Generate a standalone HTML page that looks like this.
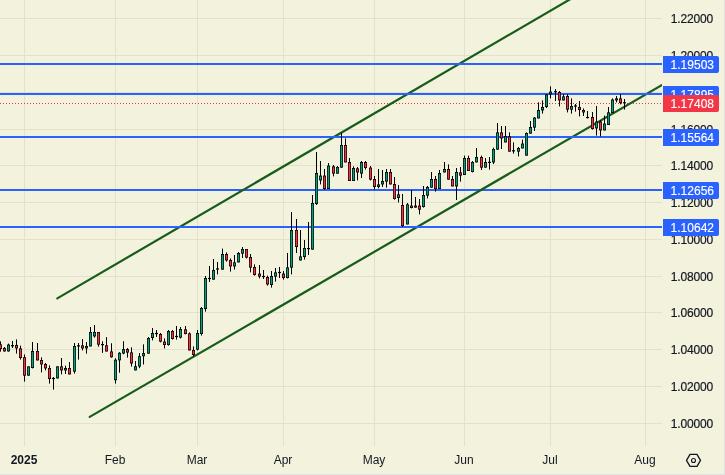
<!DOCTYPE html>
<html><head><meta charset="utf-8"><style>
html,body{margin:0;padding:0;}
.pl,.ml,.bx{will-change:transform;-webkit-font-smoothing:antialiased;}
body{width:725px;height:475px;overflow:hidden;background:#f3f2dd;position:relative;font-family:"Liberation Sans",sans-serif;color:#131722;}
svg{position:absolute;left:0;top:0;}
.pl{position:absolute;left:662px;width:51px;text-align:right;font-size:12px;line-height:14px;height:14px;letter-spacing:-0.15px;-webkit-text-stroke:0.2px #131722;}
.bx{position:absolute;left:663px;width:56px;height:17px;line-height:19px;color:#fff;font-size:12px;text-align:right;box-sizing:border-box;padding-right:5px;border-radius:0 2px 2px 0;letter-spacing:0px;-webkit-text-stroke:0.15px #fff;overflow:hidden;}
.ml{position:absolute;top:453px;width:60px;text-align:center;font-size:12px;line-height:14px;}
.ml.b{font-weight:bold;}
.edge-r{position:absolute;left:724px;top:0;width:1px;height:475px;background:#e1e1e1;}
.edge-b{position:absolute;left:0;top:474px;width:725px;height:1px;background:#e1e1e1;}
</style></head><body>
<svg width="725" height="475" viewBox="0 0 725 475">
<rect x="24" y="0" width="1" height="446" fill="#e3e1cb"/>
<rect x="115" y="0" width="1" height="446" fill="#e3e1cb"/>
<rect x="197" y="0" width="1" height="446" fill="#e3e1cb"/>
<rect x="283" y="0" width="1" height="446" fill="#e3e1cb"/>
<rect x="374" y="0" width="1" height="446" fill="#e3e1cb"/>
<rect x="464" y="0" width="1" height="446" fill="#e3e1cb"/>
<rect x="550" y="0" width="1" height="446" fill="#e3e1cb"/>
<rect x="645" y="0" width="1" height="446" fill="#e3e1cb"/>
<rect x="0" y="18" width="662" height="1" fill="#e3e1cb"/>
<rect x="0" y="55" width="662" height="1" fill="#e3e1cb"/>
<rect x="0" y="92" width="662" height="1" fill="#e3e1cb"/>
<rect x="0" y="129" width="662" height="1" fill="#e3e1cb"/>
<rect x="0" y="165" width="662" height="1" fill="#e3e1cb"/>
<rect x="0" y="202" width="662" height="1" fill="#e3e1cb"/>
<rect x="0" y="239" width="662" height="1" fill="#e3e1cb"/>
<rect x="0" y="276" width="662" height="1" fill="#e3e1cb"/>
<rect x="0" y="312" width="662" height="1" fill="#e3e1cb"/>
<rect x="0" y="349" width="662" height="1" fill="#e3e1cb"/>
<rect x="0" y="386" width="662" height="1" fill="#e3e1cb"/>
<rect x="0" y="423" width="662" height="1" fill="#e3e1cb"/>
<clipPath id="cl"><rect x="0" y="0" width="662" height="446"/></clipPath>
<line x1="0" y1="103.5" x2="662" y2="103.5" stroke="#f23645" stroke-width="1" stroke-dasharray="1 2" shape-rendering="crispEdges"/>
<rect x="0" y="189" width="662" height="2" fill="#2962ff"/>
<g clip-path="url(#cl)"><line x1="57.3" y1="298.34" x2="580" y2="-6.50" stroke="#185c1c" stroke-width="2.2" stroke-linecap="round"/>
<line x1="89.7" y1="416.90" x2="680" y2="74.53" stroke="#185c1c" stroke-width="2.2" stroke-linecap="round"/></g>
<rect x="0" y="63" width="662" height="2" fill="#2962ff"/>
<rect x="0" y="93" width="662" height="2" fill="#2962ff"/>
<rect x="0" y="136" width="662" height="2" fill="#2962ff"/>
<rect x="0" y="226" width="662" height="2" fill="#2962ff"/>
<g clip-path="url(#cl)"><rect x="0.00" y="341.40" width="1" height="10.20" fill="#000"/><rect x="-1.00" y="344.40" width="3" height="4.60" fill="#000"/><rect x="-0.30" y="345.20" width="1.6" height="3.00" fill="#f23645"/><rect x="4.00" y="347.00" width="1" height="4.60" fill="#000"/><rect x="3.00" y="348.00" width="3" height="3.40" fill="#000"/><rect x="3.70" y="348.80" width="1.6" height="1.80" fill="#f23645"/><rect x="8.00" y="343.60" width="1" height="8.00" fill="#000"/><rect x="7.00" y="344.60" width="3" height="6.80" fill="#000"/><rect x="7.70" y="345.40" width="1.6" height="5.20" fill="#0a9b81"/><rect x="12.00" y="341.00" width="1" height="7.00" fill="#000"/><rect x="11.00" y="345.10" width="3" height="1.2" fill="#000"/><rect x="16.00" y="339.40" width="1" height="14.20" fill="#000"/><rect x="15.00" y="345.00" width="3" height="3.40" fill="#000"/><rect x="15.70" y="345.80" width="1.6" height="1.80" fill="#f23645"/><rect x="20.00" y="345.60" width="1" height="14.00" fill="#000"/><rect x="19.00" y="348.40" width="3" height="9.60" fill="#000"/><rect x="19.70" y="349.20" width="1.6" height="8.00" fill="#f23645"/><rect x="24.00" y="354.40" width="1" height="27.20" fill="#000"/><rect x="23.00" y="357.20" width="3" height="18.40" fill="#000"/><rect x="23.70" y="358.00" width="1.6" height="16.80" fill="#f23645"/><rect x="28.00" y="366.40" width="1" height="9.20" fill="#000"/><rect x="27.00" y="366.40" width="3" height="9.20" fill="#000"/><rect x="27.70" y="367.20" width="1.6" height="7.60" fill="#0a9b81"/><rect x="32.00" y="342.00" width="1" height="26.40" fill="#000"/><rect x="31.00" y="351.00" width="3" height="17.00" fill="#000"/><rect x="31.70" y="351.80" width="1.6" height="15.40" fill="#0a9b81"/><rect x="37.00" y="343.00" width="1" height="17.40" fill="#000"/><rect x="36.00" y="351.00" width="3" height="9.40" fill="#000"/><rect x="36.70" y="351.80" width="1.6" height="7.80" fill="#f23645"/><rect x="41.00" y="357.40" width="1" height="15.00" fill="#000"/><rect x="40.00" y="360.00" width="3" height="4.40" fill="#000"/><rect x="40.70" y="360.80" width="1.6" height="2.80" fill="#f23645"/><rect x="45.00" y="363.00" width="1" height="7.40" fill="#000"/><rect x="44.00" y="364.00" width="3" height="4.40" fill="#000"/><rect x="44.70" y="364.80" width="1.6" height="2.80" fill="#f23645"/><rect x="49.00" y="365.40" width="1" height="18.20" fill="#000"/><rect x="48.00" y="368.00" width="3" height="11.00" fill="#000"/><rect x="48.70" y="368.80" width="1.6" height="9.40" fill="#f23645"/><rect x="53.00" y="377.00" width="1" height="12.60" fill="#000"/><rect x="52.00" y="377.90" width="3" height="1.2" fill="#000"/><rect x="57.00" y="366.40" width="1" height="12.00" fill="#000"/><rect x="56.00" y="366.40" width="3" height="12.00" fill="#000"/><rect x="56.70" y="367.20" width="1.6" height="10.40" fill="#0a9b81"/><rect x="61.00" y="358.00" width="1" height="16.40" fill="#000"/><rect x="60.00" y="366.40" width="3" height="4.00" fill="#000"/><rect x="60.70" y="367.20" width="1.6" height="2.40" fill="#f23645"/><rect x="65.00" y="365.60" width="1" height="8.40" fill="#000"/><rect x="64.00" y="368.00" width="3" height="2.40" fill="#000"/><rect x="64.70" y="368.80" width="1.6" height="0.80" fill="#0a9b81"/><rect x="69.00" y="362.00" width="1" height="12.40" fill="#000"/><rect x="68.00" y="368.00" width="3" height="6.40" fill="#000"/><rect x="68.70" y="368.80" width="1.6" height="4.80" fill="#f23645"/><rect x="74.00" y="343.00" width="1" height="30.60" fill="#000"/><rect x="73.00" y="346.00" width="3" height="25.60" fill="#000"/><rect x="73.70" y="346.80" width="1.6" height="24.00" fill="#0a9b81"/><rect x="78.00" y="343.00" width="1" height="16.60" fill="#000"/><rect x="77.00" y="345.30" width="3" height="1.2" fill="#000"/><rect x="82.00" y="339.00" width="1" height="11.40" fill="#000"/><rect x="81.00" y="345.40" width="3" height="3.00" fill="#000"/><rect x="81.70" y="346.20" width="1.6" height="1.40" fill="#f23645"/><rect x="86.00" y="342.00" width="1" height="11.60" fill="#000"/><rect x="85.00" y="346.00" width="3" height="2.40" fill="#000"/><rect x="85.70" y="346.80" width="1.6" height="0.80" fill="#0a9b81"/><rect x="90.00" y="327.00" width="1" height="19.40" fill="#000"/><rect x="89.00" y="332.00" width="3" height="14.40" fill="#000"/><rect x="89.70" y="332.80" width="1.6" height="12.80" fill="#0a9b81"/><rect x="94.00" y="325.00" width="1" height="12.60" fill="#000"/><rect x="93.00" y="332.00" width="3" height="4.40" fill="#000"/><rect x="93.70" y="332.80" width="1.6" height="2.80" fill="#0a9b81"/><rect x="98.00" y="332.04" width="1" height="14.64" fill="#000"/><rect x="97.00" y="332.04" width="3" height="12.59" fill="#000"/><rect x="97.70" y="332.84" width="1.6" height="10.99" fill="#f23645"/><rect x="102.00" y="341.20" width="1" height="11.63" fill="#000"/><rect x="101.00" y="344.02" width="3" height="1.2" fill="#000"/><rect x="106.00" y="337.10" width="1" height="14.36" fill="#000"/><rect x="105.00" y="345.31" width="3" height="6.16" fill="#000"/><rect x="105.70" y="346.11" width="1.6" height="4.56" fill="#f23645"/><rect x="111.00" y="343.26" width="1" height="14.36" fill="#000"/><rect x="110.00" y="351.46" width="3" height="5.75" fill="#000"/><rect x="110.70" y="352.26" width="1.6" height="4.15" fill="#f23645"/><rect x="115.00" y="358.30" width="1" height="25.31" fill="#000"/><rect x="114.00" y="359.67" width="3" height="20.52" fill="#000"/><rect x="114.70" y="360.47" width="1.6" height="18.92" fill="#0a9b81"/><rect x="119.00" y="352.15" width="1" height="20.52" fill="#000"/><rect x="118.00" y="352.83" width="3" height="7.52" fill="#000"/><rect x="118.70" y="353.63" width="1.6" height="5.92" fill="#0a9b81"/><rect x="123.00" y="341.20" width="1" height="13.00" fill="#000"/><rect x="122.00" y="349.14" width="3" height="4.38" fill="#000"/><rect x="122.70" y="349.94" width="1.6" height="2.78" fill="#0a9b81"/><rect x="127.00" y="348.04" width="1" height="9.58" fill="#000"/><rect x="126.00" y="349.14" width="3" height="3.42" fill="#000"/><rect x="126.70" y="349.94" width="1.6" height="1.82" fill="#f23645"/><rect x="131.00" y="347.36" width="1" height="19.15" fill="#000"/><rect x="130.00" y="352.42" width="3" height="11.08" fill="#000"/><rect x="130.70" y="353.22" width="1.6" height="9.48" fill="#f23645"/><rect x="135.00" y="361.04" width="1" height="9.30" fill="#000"/><rect x="134.00" y="366.24" width="3" height="4.10" fill="#000"/><rect x="134.70" y="367.04" width="1.6" height="2.50" fill="#0a9b81"/><rect x="139.00" y="353.11" width="1" height="15.05" fill="#000"/><rect x="138.00" y="356.25" width="3" height="10.26" fill="#000"/><rect x="138.70" y="357.05" width="1.6" height="8.66" fill="#0a9b81"/><rect x="143.00" y="344.35" width="1" height="20.11" fill="#000"/><rect x="142.00" y="353.11" width="3" height="3.15" fill="#000"/><rect x="142.70" y="353.91" width="1.6" height="1.55" fill="#0a9b81"/><rect x="148.00" y="337.00" width="1" height="16.60" fill="#000"/><rect x="147.00" y="338.00" width="3" height="15.60" fill="#000"/><rect x="147.70" y="338.80" width="1.6" height="14.00" fill="#0a9b81"/><rect x="152.00" y="328.00" width="1" height="12.40" fill="#000"/><rect x="151.00" y="333.00" width="3" height="5.00" fill="#000"/><rect x="151.70" y="333.80" width="1.6" height="3.40" fill="#0a9b81"/><rect x="156.00" y="330.00" width="1" height="7.00" fill="#000"/><rect x="155.00" y="332.90" width="3" height="1.2" fill="#000"/><rect x="160.00" y="333.00" width="1" height="9.40" fill="#000"/><rect x="159.00" y="334.00" width="3" height="7.60" fill="#000"/><rect x="159.70" y="334.80" width="1.6" height="6.00" fill="#f23645"/><rect x="164.00" y="338.40" width="1" height="10.00" fill="#000"/><rect x="163.00" y="341.60" width="3" height="3.40" fill="#000"/><rect x="163.70" y="342.40" width="1.6" height="1.80" fill="#f23645"/><rect x="168.00" y="330.00" width="1" height="15.60" fill="#000"/><rect x="167.00" y="331.00" width="3" height="14.00" fill="#000"/><rect x="167.70" y="331.80" width="1.6" height="12.40" fill="#0a9b81"/><rect x="172.00" y="330.00" width="1" height="9.60" fill="#000"/><rect x="171.00" y="331.00" width="3" height="8.00" fill="#000"/><rect x="171.70" y="331.80" width="1.6" height="6.40" fill="#f23645"/><rect x="176.00" y="326.00" width="1" height="13.60" fill="#000"/><rect x="175.00" y="335.90" width="3" height="1.2" fill="#000"/><rect x="180.00" y="327.00" width="1" height="11.40" fill="#000"/><rect x="179.00" y="329.00" width="3" height="8.60" fill="#000"/><rect x="179.70" y="329.80" width="1.6" height="7.00" fill="#0a9b81"/><rect x="185.00" y="326.00" width="1" height="8.40" fill="#000"/><rect x="184.00" y="329.40" width="3" height="4.60" fill="#000"/><rect x="184.70" y="330.20" width="1.6" height="3.00" fill="#f23645"/><rect x="189.00" y="332.40" width="1" height="18.00" fill="#000"/><rect x="188.00" y="333.40" width="3" height="17.00" fill="#000"/><rect x="188.70" y="334.20" width="1.6" height="15.40" fill="#f23645"/><rect x="193.00" y="346.40" width="1" height="10.00" fill="#000"/><rect x="192.00" y="350.00" width="3" height="5.00" fill="#000"/><rect x="192.70" y="350.80" width="1.6" height="3.40" fill="#f23645"/><rect x="197.00" y="330.00" width="1" height="20.40" fill="#000"/><rect x="196.00" y="333.00" width="3" height="16.60" fill="#000"/><rect x="196.70" y="333.80" width="1.6" height="15.00" fill="#0a9b81"/><rect x="201.00" y="307.00" width="1" height="28.60" fill="#000"/><rect x="200.00" y="308.00" width="3" height="26.00" fill="#000"/><rect x="200.70" y="308.80" width="1.6" height="24.40" fill="#0a9b81"/><rect x="209.00" y="266.00" width="1" height="16.00" fill="#000"/><rect x="208.00" y="277.90" width="3" height="1.2" fill="#000"/><rect x="213.00" y="259.00" width="1" height="20.60" fill="#000"/><rect x="212.00" y="270.00" width="3" height="9.60" fill="#000"/><rect x="212.70" y="270.80" width="1.6" height="8.00" fill="#0a9b81"/><rect x="217.00" y="262.00" width="1" height="12.40" fill="#000"/><rect x="216.00" y="268.40" width="3" height="1.2" fill="#000"/><rect x="222.00" y="248.60" width="1" height="21.00" fill="#000"/><rect x="221.00" y="254.00" width="3" height="15.60" fill="#000"/><rect x="221.70" y="254.80" width="1.6" height="14.00" fill="#0a9b81"/><rect x="226.00" y="252.40" width="1" height="9.20" fill="#000"/><rect x="225.00" y="254.00" width="3" height="6.40" fill="#000"/><rect x="225.70" y="254.80" width="1.6" height="4.80" fill="#f23645"/><rect x="230.00" y="258.40" width="1" height="13.20" fill="#000"/><rect x="229.00" y="260.00" width="3" height="6.40" fill="#000"/><rect x="229.70" y="260.80" width="1.6" height="4.80" fill="#f23645"/><rect x="234.00" y="255.00" width="1" height="14.60" fill="#000"/><rect x="233.00" y="262.40" width="3" height="4.00" fill="#000"/><rect x="233.70" y="263.20" width="1.6" height="2.40" fill="#0a9b81"/><rect x="238.00" y="252.00" width="1" height="10.40" fill="#000"/><rect x="237.00" y="253.00" width="3" height="9.40" fill="#000"/><rect x="237.70" y="253.80" width="1.6" height="7.80" fill="#0a9b81"/><rect x="242.00" y="247.00" width="1" height="11.00" fill="#000"/><rect x="241.00" y="249.00" width="3" height="4.60" fill="#000"/><rect x="241.70" y="249.80" width="1.6" height="3.00" fill="#0a9b81"/><rect x="246.00" y="249.00" width="1" height="9.40" fill="#000"/><rect x="245.00" y="249.00" width="3" height="8.60" fill="#000"/><rect x="245.70" y="249.80" width="1.6" height="7.00" fill="#f23645"/><rect x="250.00" y="254.00" width="1" height="18.40" fill="#000"/><rect x="249.00" y="257.00" width="3" height="10.60" fill="#000"/><rect x="249.70" y="257.80" width="1.6" height="9.00" fill="#f23645"/><rect x="254.00" y="264.40" width="1" height="11.20" fill="#000"/><rect x="253.00" y="267.00" width="3" height="8.00" fill="#000"/><rect x="253.70" y="267.80" width="1.6" height="6.40" fill="#f23645"/><rect x="259.00" y="265.00" width="1" height="13.40" fill="#000"/><rect x="258.00" y="273.60" width="3" height="3.00" fill="#000"/><rect x="258.70" y="274.40" width="1.6" height="1.40" fill="#f23645"/><rect x="263.00" y="270.00" width="1" height="9.00" fill="#000"/><rect x="262.00" y="275.90" width="3" height="1.2" fill="#000"/><rect x="267.00" y="275.60" width="1" height="10.00" fill="#000"/><rect x="266.00" y="277.00" width="3" height="7.40" fill="#000"/><rect x="266.70" y="277.80" width="1.6" height="5.80" fill="#f23645"/><rect x="271.00" y="271.00" width="1" height="16.60" fill="#000"/><rect x="270.00" y="276.00" width="3" height="9.00" fill="#000"/><rect x="270.70" y="276.80" width="1.6" height="7.40" fill="#0a9b81"/><rect x="275.00" y="268.00" width="1" height="13.60" fill="#000"/><rect x="274.00" y="272.40" width="3" height="4.20" fill="#000"/><rect x="274.70" y="273.20" width="1.6" height="2.60" fill="#0a9b81"/><rect x="279.00" y="267.00" width="1" height="11.00" fill="#000"/><rect x="278.00" y="271.90" width="3" height="1.2" fill="#000"/><rect x="283.00" y="271.00" width="1" height="8.60" fill="#000"/><rect x="282.00" y="273.60" width="3" height="4.40" fill="#000"/><rect x="282.70" y="274.40" width="1.6" height="2.80" fill="#f23645"/><rect x="287.00" y="253.00" width="1" height="25.40" fill="#000"/><rect x="286.00" y="267.40" width="3" height="10.60" fill="#000"/><rect x="286.70" y="268.20" width="1.6" height="9.00" fill="#0a9b81"/><rect x="291.00" y="212.00" width="1" height="62.40" fill="#000"/><rect x="290.00" y="230.00" width="3" height="37.60" fill="#000"/><rect x="290.70" y="230.80" width="1.6" height="36.00" fill="#0a9b81"/><rect x="296.00" y="219.00" width="1" height="34.00" fill="#000"/><rect x="295.00" y="230.00" width="3" height="17.00" fill="#000"/><rect x="295.70" y="230.80" width="1.6" height="15.40" fill="#f23645"/><rect x="300.00" y="230.00" width="1" height="30.40" fill="#000"/><rect x="299.00" y="256.40" width="3" height="4.00" fill="#000"/><rect x="299.70" y="257.20" width="1.6" height="2.40" fill="#0a9b81"/><rect x="304.00" y="240.00" width="1" height="19.60" fill="#000"/><rect x="303.00" y="248.00" width="3" height="9.00" fill="#000"/><rect x="303.70" y="248.80" width="1.6" height="7.40" fill="#0a9b81"/><rect x="308.00" y="222.00" width="1" height="33.00" fill="#000"/><rect x="307.00" y="248.00" width="3" height="1.2" fill="#000"/><rect x="316.00" y="152.00" width="1" height="53.00" fill="#000"/><rect x="315.00" y="173.00" width="3" height="31.00" fill="#000"/><rect x="315.70" y="173.80" width="1.6" height="29.40" fill="#0a9b81"/><rect x="320.00" y="161.00" width="1" height="23.40" fill="#000"/><rect x="319.00" y="175.60" width="3" height="4.80" fill="#000"/><rect x="319.70" y="176.40" width="1.6" height="3.20" fill="#0a9b81"/><rect x="324.00" y="169.00" width="1" height="20.60" fill="#000"/><rect x="323.00" y="175.60" width="3" height="13.40" fill="#000"/><rect x="323.70" y="176.40" width="1.6" height="11.80" fill="#f23645"/><rect x="328.00" y="163.00" width="1" height="26.00" fill="#000"/><rect x="327.00" y="165.60" width="3" height="23.40" fill="#000"/><rect x="327.70" y="166.40" width="1.6" height="21.80" fill="#0a9b81"/><rect x="333.00" y="165.00" width="1" height="11.40" fill="#000"/><rect x="332.00" y="166.40" width="3" height="7.20" fill="#000"/><rect x="332.70" y="167.20" width="1.6" height="5.60" fill="#f23645"/><rect x="337.00" y="166.00" width="1" height="7.60" fill="#000"/><rect x="336.00" y="167.00" width="3" height="6.60" fill="#000"/><rect x="336.70" y="167.80" width="1.6" height="5.00" fill="#0a9b81"/><rect x="341.00" y="133.00" width="1" height="34.60" fill="#000"/><rect x="340.00" y="145.00" width="3" height="22.60" fill="#000"/><rect x="340.70" y="145.80" width="1.6" height="21.00" fill="#0a9b81"/><rect x="345.00" y="138.40" width="1" height="24.00" fill="#000"/><rect x="344.00" y="145.00" width="3" height="17.40" fill="#000"/><rect x="344.70" y="145.80" width="1.6" height="15.80" fill="#f23645"/><rect x="349.00" y="158.00" width="1" height="23.00" fill="#000"/><rect x="348.00" y="162.00" width="3" height="19.00" fill="#000"/><rect x="348.70" y="162.80" width="1.6" height="17.40" fill="#f23645"/><rect x="353.00" y="166.40" width="1" height="14.60" fill="#000"/><rect x="352.00" y="168.00" width="3" height="13.00" fill="#000"/><rect x="352.70" y="168.80" width="1.6" height="11.40" fill="#0a9b81"/><rect x="357.00" y="167.00" width="1" height="13.40" fill="#000"/><rect x="356.00" y="168.40" width="3" height="4.00" fill="#000"/><rect x="356.70" y="169.20" width="1.6" height="2.40" fill="#f23645"/><rect x="361.00" y="161.00" width="1" height="17.00" fill="#000"/><rect x="360.00" y="162.00" width="3" height="11.60" fill="#000"/><rect x="360.70" y="162.80" width="1.6" height="10.00" fill="#0a9b81"/><rect x="365.00" y="161.00" width="1" height="8.60" fill="#000"/><rect x="364.00" y="162.00" width="3" height="6.00" fill="#000"/><rect x="364.70" y="162.80" width="1.6" height="4.40" fill="#f23645"/><rect x="370.00" y="166.00" width="1" height="14.40" fill="#000"/><rect x="369.00" y="167.60" width="3" height="12.00" fill="#000"/><rect x="369.70" y="168.40" width="1.6" height="10.40" fill="#f23645"/><rect x="374.00" y="176.00" width="1" height="13.60" fill="#000"/><rect x="373.00" y="179.00" width="3" height="8.00" fill="#000"/><rect x="373.70" y="179.80" width="1.6" height="6.40" fill="#f23645"/><rect x="378.00" y="169.00" width="1" height="19.40" fill="#000"/><rect x="377.00" y="184.40" width="3" height="2.60" fill="#000"/><rect x="377.70" y="185.20" width="1.6" height="1.00" fill="#0a9b81"/><rect x="382.00" y="170.00" width="1" height="17.00" fill="#000"/><rect x="381.00" y="181.00" width="3" height="3.40" fill="#000"/><rect x="381.70" y="181.80" width="1.6" height="1.80" fill="#0a9b81"/><rect x="386.00" y="169.00" width="1" height="18.60" fill="#000"/><rect x="385.00" y="172.00" width="3" height="9.60" fill="#000"/><rect x="385.70" y="172.80" width="1.6" height="8.00" fill="#0a9b81"/><rect x="390.00" y="169.00" width="1" height="15.40" fill="#000"/><rect x="389.00" y="172.00" width="3" height="12.40" fill="#000"/><rect x="389.70" y="172.80" width="1.6" height="10.80" fill="#f23645"/><rect x="394.00" y="177.00" width="1" height="22.60" fill="#000"/><rect x="393.00" y="184.00" width="3" height="15.00" fill="#000"/><rect x="393.70" y="184.80" width="1.6" height="13.40" fill="#f23645"/><rect x="398.00" y="185.00" width="1" height="17.40" fill="#000"/><rect x="397.00" y="194.40" width="3" height="3.60" fill="#000"/><rect x="397.70" y="195.20" width="1.6" height="2.00" fill="#0a9b81"/><rect x="402.00" y="194.00" width="1" height="33.00" fill="#000"/><rect x="401.00" y="205.00" width="3" height="21.00" fill="#000"/><rect x="401.70" y="205.80" width="1.6" height="19.40" fill="#f23645"/><rect x="407.00" y="203.00" width="1" height="21.40" fill="#000"/><rect x="406.00" y="204.40" width="3" height="20.00" fill="#000"/><rect x="406.70" y="205.20" width="1.6" height="18.40" fill="#0a9b81"/><rect x="411.00" y="190.00" width="1" height="18.40" fill="#000"/><rect x="410.00" y="205.60" width="3" height="2.40" fill="#000"/><rect x="410.70" y="206.40" width="1.6" height="0.80" fill="#f23645"/><rect x="415.00" y="197.00" width="1" height="10.60" fill="#000"/><rect x="414.00" y="205.60" width="3" height="2.00" fill="#000"/><rect x="414.70" y="206.40" width="1.6" height="0.40" fill="#f23645"/><rect x="419.00" y="199.00" width="1" height="15.40" fill="#000"/><rect x="418.00" y="205.60" width="3" height="4.00" fill="#000"/><rect x="418.70" y="206.40" width="1.6" height="2.40" fill="#f23645"/><rect x="423.00" y="186.00" width="1" height="21.60" fill="#000"/><rect x="422.00" y="195.00" width="3" height="12.00" fill="#000"/><rect x="422.70" y="195.80" width="1.6" height="10.40" fill="#0a9b81"/><rect x="427.00" y="186.00" width="1" height="12.40" fill="#000"/><rect x="426.00" y="187.00" width="3" height="8.60" fill="#000"/><rect x="426.70" y="187.80" width="1.6" height="7.00" fill="#0a9b81"/><rect x="431.00" y="172.00" width="1" height="15.60" fill="#000"/><rect x="430.00" y="179.00" width="3" height="8.60" fill="#000"/><rect x="430.70" y="179.80" width="1.6" height="7.00" fill="#0a9b81"/><rect x="435.00" y="176.00" width="1" height="15.60" fill="#000"/><rect x="434.00" y="179.00" width="3" height="10.00" fill="#000"/><rect x="434.70" y="179.80" width="1.6" height="8.40" fill="#f23645"/><rect x="439.00" y="170.00" width="1" height="19.00" fill="#000"/><rect x="438.00" y="173.00" width="3" height="16.00" fill="#000"/><rect x="438.70" y="173.80" width="1.6" height="14.40" fill="#0a9b81"/><rect x="444.00" y="162.00" width="1" height="10.40" fill="#000"/><rect x="443.00" y="169.00" width="3" height="3.40" fill="#000"/><rect x="443.70" y="169.80" width="1.6" height="1.80" fill="#0a9b81"/><rect x="448.00" y="164.40" width="1" height="15.20" fill="#000"/><rect x="447.00" y="169.00" width="3" height="10.60" fill="#000"/><rect x="447.70" y="169.80" width="1.6" height="9.00" fill="#f23645"/><rect x="452.00" y="176.00" width="1" height="10.40" fill="#000"/><rect x="451.00" y="179.00" width="3" height="7.40" fill="#000"/><rect x="451.70" y="179.80" width="1.6" height="5.80" fill="#f23645"/><rect x="456.00" y="168.00" width="1" height="32.00" fill="#000"/><rect x="455.00" y="172.00" width="3" height="14.40" fill="#000"/><rect x="455.70" y="172.80" width="1.6" height="12.80" fill="#0a9b81"/><rect x="460.00" y="167.00" width="1" height="14.60" fill="#000"/><rect x="459.00" y="172.40" width="3" height="3.20" fill="#000"/><rect x="459.70" y="173.20" width="1.6" height="1.60" fill="#f23645"/><rect x="468.00" y="155.60" width="1" height="15.40" fill="#000"/><rect x="467.00" y="158.00" width="3" height="13.00" fill="#000"/><rect x="467.70" y="158.80" width="1.6" height="11.40" fill="#f23645"/><rect x="472.00" y="161.00" width="1" height="11.40" fill="#000"/><rect x="471.00" y="162.00" width="3" height="10.00" fill="#000"/><rect x="471.70" y="162.80" width="1.6" height="8.40" fill="#0a9b81"/><rect x="476.00" y="148.00" width="1" height="14.40" fill="#000"/><rect x="475.00" y="157.00" width="3" height="5.40" fill="#000"/><rect x="475.70" y="157.80" width="1.6" height="3.80" fill="#0a9b81"/><rect x="481.00" y="155.60" width="1" height="14.40" fill="#000"/><rect x="480.00" y="157.00" width="3" height="10.60" fill="#000"/><rect x="480.70" y="157.80" width="1.6" height="9.00" fill="#f23645"/><rect x="485.00" y="158.00" width="1" height="9.60" fill="#000"/><rect x="484.00" y="162.00" width="3" height="5.60" fill="#000"/><rect x="484.70" y="162.80" width="1.6" height="4.00" fill="#0a9b81"/><rect x="489.00" y="157.00" width="1" height="12.60" fill="#000"/><rect x="488.00" y="161.80" width="3" height="1.2" fill="#000"/><rect x="493.00" y="147.60" width="1" height="16.40" fill="#000"/><rect x="492.00" y="149.00" width="3" height="13.40" fill="#000"/><rect x="492.70" y="149.80" width="1.6" height="11.80" fill="#0a9b81"/><rect x="497.00" y="123.00" width="1" height="26.60" fill="#000"/><rect x="496.00" y="132.40" width="3" height="17.20" fill="#000"/><rect x="496.70" y="133.20" width="1.6" height="15.60" fill="#0a9b81"/><rect x="501.00" y="126.00" width="1" height="23.00" fill="#000"/><rect x="500.00" y="132.40" width="3" height="6.00" fill="#000"/><rect x="500.70" y="133.20" width="1.6" height="4.40" fill="#f23645"/><rect x="505.00" y="126.00" width="1" height="16.40" fill="#000"/><rect x="504.00" y="136.00" width="3" height="6.40" fill="#000"/><rect x="504.70" y="136.80" width="1.6" height="4.80" fill="#0a9b81"/><rect x="509.00" y="132.40" width="1" height="19.20" fill="#000"/><rect x="508.00" y="136.40" width="3" height="15.20" fill="#000"/><rect x="508.70" y="137.20" width="1.6" height="13.60" fill="#f23645"/><rect x="513.00" y="142.40" width="1" height="11.20" fill="#000"/><rect x="512.00" y="150.20" width="3" height="1.2" fill="#000"/><rect x="518.00" y="147.00" width="1" height="9.40" fill="#000"/><rect x="517.00" y="148.00" width="3" height="3.60" fill="#000"/><rect x="517.70" y="148.80" width="1.6" height="2.00" fill="#0a9b81"/><rect x="522.00" y="139.60" width="1" height="8.80" fill="#000"/><rect x="521.00" y="143.60" width="3" height="4.80" fill="#000"/><rect x="521.70" y="144.40" width="1.6" height="3.20" fill="#0a9b81"/><rect x="526.00" y="132.40" width="1" height="23.20" fill="#000"/><rect x="525.00" y="133.00" width="3" height="22.60" fill="#000"/><rect x="525.70" y="133.80" width="1.6" height="21.00" fill="#0a9b81"/><rect x="530.00" y="121.00" width="1" height="12.60" fill="#000"/><rect x="529.00" y="127.00" width="3" height="6.60" fill="#000"/><rect x="529.70" y="127.80" width="1.6" height="5.00" fill="#0a9b81"/><rect x="534.00" y="117.00" width="1" height="14.00" fill="#000"/><rect x="533.00" y="117.60" width="3" height="10.00" fill="#000"/><rect x="533.70" y="118.40" width="1.6" height="8.40" fill="#0a9b81"/><rect x="538.00" y="102.40" width="1" height="16.00" fill="#000"/><rect x="537.00" y="110.00" width="3" height="8.40" fill="#000"/><rect x="537.70" y="110.80" width="1.6" height="6.80" fill="#0a9b81"/><rect x="542.00" y="100.40" width="1" height="13.20" fill="#000"/><rect x="541.00" y="107.00" width="3" height="3.40" fill="#000"/><rect x="541.70" y="107.80" width="1.6" height="1.80" fill="#0a9b81"/><rect x="546.00" y="94.40" width="1" height="13.60" fill="#000"/><rect x="545.00" y="94.40" width="3" height="12.60" fill="#000"/><rect x="545.70" y="95.20" width="1.6" height="11.00" fill="#0a9b81"/><rect x="550.00" y="86.40" width="1" height="12.00" fill="#000"/><rect x="549.00" y="91.60" width="3" height="2.80" fill="#000"/><rect x="549.70" y="92.40" width="1.6" height="1.20" fill="#0a9b81"/><rect x="555.00" y="89.00" width="1" height="12.00" fill="#000"/><rect x="554.00" y="91.10" width="3" height="1.2" fill="#000"/><rect x="559.00" y="91.00" width="1" height="15.40" fill="#000"/><rect x="558.00" y="92.00" width="3" height="8.40" fill="#000"/><rect x="558.70" y="92.80" width="1.6" height="6.80" fill="#f23645"/><rect x="563.00" y="94.00" width="1" height="6.40" fill="#000"/><rect x="562.00" y="96.40" width="3" height="4.00" fill="#000"/><rect x="562.70" y="97.20" width="1.6" height="2.40" fill="#0a9b81"/><rect x="567.00" y="94.00" width="1" height="18.40" fill="#000"/><rect x="566.00" y="96.00" width="3" height="13.60" fill="#000"/><rect x="566.70" y="96.80" width="1.6" height="12.00" fill="#f23645"/><rect x="571.00" y="98.40" width="1" height="15.20" fill="#000"/><rect x="570.00" y="106.00" width="3" height="3.60" fill="#000"/><rect x="570.70" y="106.80" width="1.6" height="2.00" fill="#0a9b81"/><rect x="575.00" y="104.00" width="1" height="7.60" fill="#000"/><rect x="574.00" y="105.40" width="3" height="1.2" fill="#000"/><rect x="579.00" y="101.00" width="1" height="15.40" fill="#000"/><rect x="578.00" y="107.00" width="3" height="3.00" fill="#000"/><rect x="578.70" y="107.80" width="1.6" height="1.40" fill="#f23645"/><rect x="583.00" y="108.40" width="1" height="7.60" fill="#000"/><rect x="582.00" y="110.00" width="3" height="2.40" fill="#000"/><rect x="582.70" y="110.80" width="1.6" height="0.80" fill="#f23645"/><rect x="587.00" y="111.00" width="1" height="7.40" fill="#000"/><rect x="586.00" y="116.90" width="3" height="1.2" fill="#000"/><rect x="592.00" y="112.00" width="1" height="17.60" fill="#000"/><rect x="591.00" y="117.00" width="3" height="12.00" fill="#000"/><rect x="591.70" y="117.80" width="1.6" height="10.40" fill="#f23645"/><rect x="596.00" y="106.00" width="1" height="29.60" fill="#000"/><rect x="595.00" y="121.60" width="3" height="6.80" fill="#000"/><rect x="595.70" y="122.40" width="1.6" height="5.20" fill="#0a9b81"/><rect x="600.00" y="120.00" width="1" height="16.40" fill="#000"/><rect x="599.00" y="121.60" width="3" height="8.80" fill="#000"/><rect x="599.70" y="122.40" width="1.6" height="7.20" fill="#f23645"/><rect x="604.00" y="115.60" width="1" height="14.80" fill="#000"/><rect x="603.00" y="123.60" width="3" height="6.80" fill="#000"/><rect x="603.70" y="124.40" width="1.6" height="5.20" fill="#0a9b81"/><rect x="608.00" y="107.00" width="1" height="18.00" fill="#000"/><rect x="607.00" y="112.40" width="3" height="12.60" fill="#000"/><rect x="607.70" y="113.20" width="1.6" height="11.00" fill="#0a9b81"/><rect x="612.00" y="98.40" width="1" height="14.60" fill="#000"/><rect x="611.00" y="99.60" width="3" height="13.40" fill="#000"/><rect x="611.70" y="100.40" width="1.6" height="11.80" fill="#0a9b81"/><rect x="616.00" y="96.00" width="1" height="6.40" fill="#000"/><rect x="615.00" y="98.40" width="3" height="2.00" fill="#000"/><rect x="615.70" y="99.20" width="1.6" height="0.40" fill="#0a9b81"/><rect x="620.00" y="94.00" width="1" height="10.40" fill="#000"/><rect x="619.00" y="98.40" width="3" height="4.60" fill="#000"/><rect x="619.70" y="99.20" width="1.6" height="3.00" fill="#f23645"/><rect x="624.00" y="99.00" width="1" height="10.60" fill="#000"/><rect x="623.00" y="102.20" width="3" height="1.2" fill="#000"/><rect x="205.00" y="276.00" width="1" height="35.60" fill="#000"/><rect x="204.00" y="278.00" width="3" height="31.00" fill="#000"/><rect x="204.70" y="278.80" width="1.6" height="29.40" fill="#0a9b81"/><rect x="312.00" y="195.00" width="1" height="54.60" fill="#000"/><rect x="311.00" y="203.00" width="3" height="46.60" fill="#000"/><rect x="311.70" y="203.80" width="1.6" height="45.00" fill="#0a9b81"/><rect x="464.00" y="155.60" width="1" height="19.40" fill="#000"/><rect x="463.00" y="158.00" width="3" height="17.00" fill="#000"/><rect x="463.70" y="158.80" width="1.6" height="15.40" fill="#0a9b81"/></g>
</svg>
<div class="pl" style="top:12.0px">1.22000</div><div class="pl" style="top:49.0px">1.20000</div><div class="pl" style="top:86.0px">1.18000</div><div class="pl" style="top:123.0px">1.16000</div><div class="pl" style="top:159.0px">1.14000</div><div class="pl" style="top:196.0px">1.12000</div><div class="pl" style="top:233.0px">1.10000</div><div class="pl" style="top:270.0px">1.08000</div><div class="pl" style="top:306.0px">1.06000</div><div class="pl" style="top:343.0px">1.04000</div><div class="pl" style="top:380.0px">1.02000</div><div class="pl" style="top:417.0px">1.00000</div>
<div class="bx" style="top:56px;background:#2962ff">1.19503</div><div class="bx" style="top:86px;background:#2962ff">1.17895</div><div class="bx" style="top:95px;background:#f23645">1.17408</div><div class="bx" style="top:129px;background:#2962ff">1.15564</div><div class="bx" style="top:182px;background:#2962ff">1.12656</div><div class="bx" style="top:219px;background:#2962ff">1.10642</div>
<div class="ml b" style="left:-6px">2025</div><div class="ml" style="left:85px">Feb</div><div class="ml" style="left:167px">Mar</div><div class="ml" style="left:253px">Apr</div><div class="ml" style="left:344px">May</div><div class="ml" style="left:434px">Jun</div><div class="ml" style="left:520px">Jul</div><div class="ml" style="left:615px">Aug</div>
<svg width="725" height="475" viewBox="0 0 725 475" style="pointer-events:none">
<polygon points="686.5,460.3 690,454.3 697,454.3 700.5,460.3 697,466.3 690,466.3" fill="none" stroke="#131722" stroke-width="1.3" stroke-linejoin="round"/>
<circle cx="693.5" cy="460.5" r="2" fill="none" stroke="#131722" stroke-width="1.1"/>
</svg>
<div class="edge-r"></div><div class="edge-b"></div>
</body></html>
